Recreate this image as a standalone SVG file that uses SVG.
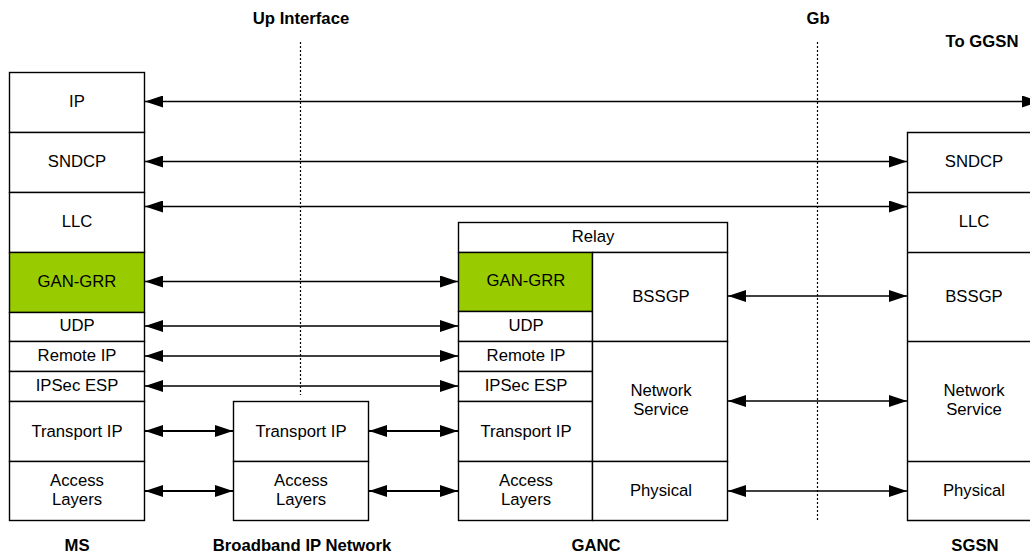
<svg xmlns="http://www.w3.org/2000/svg" width="1030" height="553" viewBox="0 0 1030 553">
<style>
.box{fill:#fff;stroke:#000;stroke-width:1.4}
.green{fill:#99cc00;stroke:#000;stroke-width:1.4}
.t{font-family:"Liberation Sans",Arial,sans-serif;font-size:16.7px;fill:#000;text-anchor:middle}
.b{font-family:"Liberation Sans",Arial,sans-serif;font-size:16.7px;font-weight:bold;fill:#000;text-anchor:middle}
.a{stroke:#000;stroke-width:1.3;fill:none;marker-start:url(#ah);marker-end:url(#ah)}
.a2{stroke:#000;stroke-width:1.8;fill:none;marker-start:url(#ah);marker-end:url(#ah)}
.dot{stroke:#000;stroke-width:1.2;stroke-dasharray:2 2;fill:none}
</style>
<defs>
<marker id="ah" markerUnits="userSpaceOnUse" markerWidth="18" markerHeight="12" refX="18" refY="6" orient="auto-start-reverse" viewBox="0 0 18 12">
<path d="M0,0 L18,6 L0,12 z" fill="#000"/>
</marker>
</defs>
<rect width="1030" height="553" fill="#fff"/>

<g id="interfaces">
<line class="dot" x1="300.5" y1="42" x2="300.5" y2="395"/>
<line class="dot" x1="817.5" y1="42" x2="817.5" y2="520"/>
<text class="b" x="301" y="24">Up Interface</text>
<text class="b" x="818" y="24">Gb</text>
<text class="b" x="982" y="47">To GGSN</text>
</g>

<g id="ms">
<rect class="box" x="9.5" y="72.5" width="135" height="60"/>
<rect class="box" x="9.5" y="132.5" width="135" height="60"/>
<rect class="box" x="9.5" y="192.5" width="135" height="60"/>
<rect class="green" x="9.5" y="252.5" width="135" height="60"/>
<rect class="box" x="9.5" y="312.5" width="135" height="29"/>
<rect class="box" x="9.5" y="341.5" width="135" height="30"/>
<rect class="box" x="9.5" y="371.5" width="135" height="30"/>
<rect class="box" x="9.5" y="401.5" width="135" height="60"/>
<rect class="box" x="9.5" y="461.5" width="135" height="59"/>
<text class="t" x="77" y="107">IP</text>
<text class="t" x="77" y="167">SNDCP</text>
<text class="t" x="77" y="227">LLC</text>
<text class="t" x="77" y="287">GAN-GRR</text>
<text class="t" x="77" y="331">UDP</text>
<text class="t" x="77" y="361">Remote IP</text>
<text class="t" x="77" y="391">IPSec ESP</text>
<text class="t" x="77" y="437">Transport IP</text>
<text class="t" x="77" y="486">Access</text>
<text class="t" x="77" y="505">Layers</text>
<text class="b" x="77" y="551">MS</text>
</g>

<g id="broadband">
<rect class="box" x="233.5" y="401.5" width="135" height="60"/>
<rect class="box" x="233.5" y="461.5" width="135" height="59"/>
<text class="t" x="301" y="437">Transport IP</text>
<text class="t" x="301" y="486">Access</text>
<text class="t" x="301" y="505">Layers</text>
<text class="b" x="302" y="551">Broadband IP Network</text>
</g>

<g id="ganc">
<rect class="box" x="458.5" y="222.5" width="269" height="30"/>
<rect class="green" x="458.5" y="252.5" width="134" height="59"/>
<rect class="box" x="458.5" y="311.5" width="134" height="30"/>
<rect class="box" x="458.5" y="341.5" width="134" height="30"/>
<rect class="box" x="458.5" y="371.5" width="134" height="30"/>
<rect class="box" x="458.5" y="401.5" width="134" height="60"/>
<rect class="box" x="458.5" y="461.5" width="134" height="59"/>
<rect class="box" x="592.5" y="252.5" width="135" height="89"/>
<rect class="box" x="592.5" y="341.5" width="135" height="120"/>
<rect class="box" x="592.5" y="461.5" width="135" height="59"/>
<text class="t" x="593" y="242">Relay</text>
<text class="t" x="526" y="286">GAN-GRR</text>
<text class="t" x="526" y="331">UDP</text>
<text class="t" x="526" y="361">Remote IP</text>
<text class="t" x="526" y="391">IPSec ESP</text>
<text class="t" x="526" y="437">Transport IP</text>
<text class="t" x="526" y="486">Access</text>
<text class="t" x="526" y="505">Layers</text>
<text class="t" x="661" y="302">BSSGP</text>
<text class="t" x="661" y="396">Network</text>
<text class="t" x="661" y="415">Service</text>
<text class="t" x="661" y="496">Physical</text>
<text class="b" x="596" y="551">GANC</text>
</g>

<g id="sgsn">
<path d="M1030,132.5 H907.5 V520.5 H1030 M907.5,192.5 H1030 M907.5,252.5 H1030 M907.5,341.5 H1030 M907.5,461.5 H1030" fill="#fff" stroke="#000" stroke-width="1.4"/>
<text class="t" x="974" y="167">SNDCP</text>
<text class="t" x="974" y="227">LLC</text>
<text class="t" x="974" y="302">BSSGP</text>
<text class="t" x="974" y="396">Network</text>
<text class="t" x="974" y="415">Service</text>
<text class="t" x="974" y="496">Physical</text>
<text class="b" x="975" y="551">SGSN</text>
</g>

<g id="connectors">
<line class="a" x1="145" y1="101.5" x2="1040" y2="101.5"/>
<line class="a" x1="145" y1="161.5" x2="907" y2="161.5"/>
<line class="a" x1="145" y1="206.5" x2="907" y2="206.5"/>
<line class="a" x1="145" y1="281.5" x2="458" y2="281.5"/>
<line class="a" x1="145" y1="326" x2="458" y2="326"/>
<line class="a" x1="145" y1="356" x2="458" y2="356"/>
<line class="a" x1="145" y1="386" x2="458" y2="386"/>
<line class="a2" x1="145" y1="431" x2="233" y2="431"/>
<line class="a2" x1="145" y1="491" x2="233" y2="491"/>
<line class="a2" x1="369" y1="431" x2="458" y2="431"/>
<line class="a2" x1="369" y1="491" x2="458" y2="491"/>
<line class="a" x1="728" y1="296" x2="907" y2="296"/>
<line class="a" x1="728" y1="401" x2="907" y2="401"/>
<line class="a" x1="728" y1="491" x2="907" y2="491"/>
</g>
</svg>
